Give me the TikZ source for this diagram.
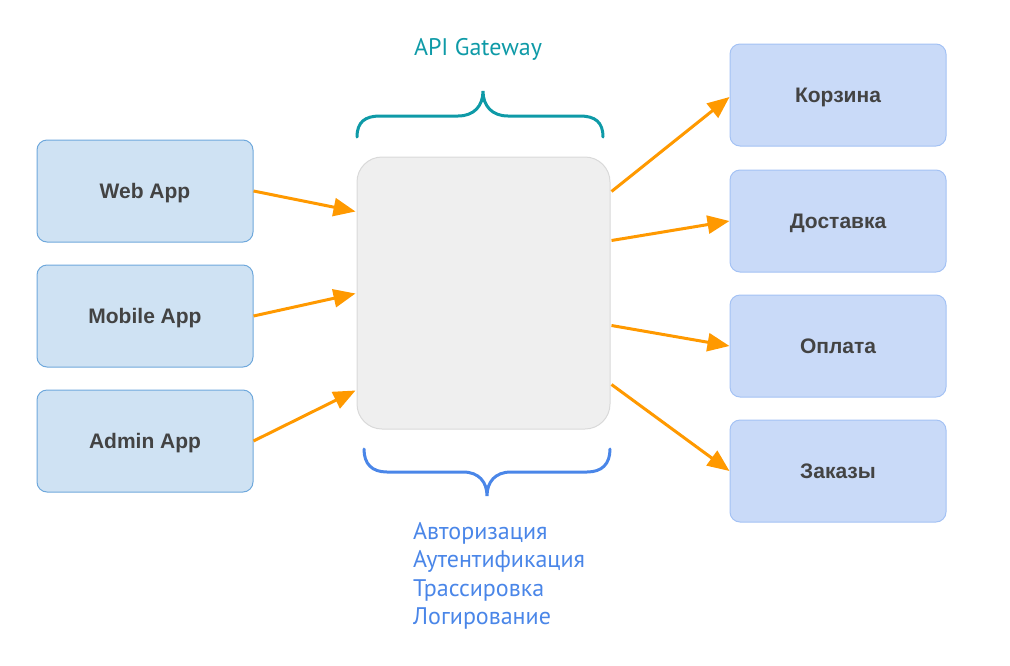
\documentclass[tikz,border=0pt]{standalone}
\usepackage{fontspec}
\setmainfont{Liberation Sans}
\newfontfamily\ptsans{PT Sans}
\usetikzlibrary{arrows.meta,calc}
\definecolor{clientfill}{HTML}{CFE2F3}
\definecolor{clientdraw}{HTML}{6FA8DC}
\definecolor{svcfill}{HTML}{C9DAF8}
\definecolor{svcdraw}{HTML}{A4C2F4}
\definecolor{gwfill}{HTML}{EFEFEF}
\definecolor{gwdraw}{HTML}{D9D9D9}
\definecolor{labeltext}{HTML}{434343}
\definecolor{flowcolor}{HTML}{FF9900}
\definecolor{tealc}{HTML}{0E9AA7}
\definecolor{bluec}{HTML}{4A86E8}
\begin{document}
\begin{tikzpicture}[x=1pt,y=-1pt,
  boxlabel/.style={font=\fontsize{21}{25}\selectfont\bfseries, text=labeltext, text height=15pt, text depth=0pt},
  clientbox/.style={boxlabel, draw=clientdraw, fill=clientfill, line width=1pt, rounded corners=10pt, minimum width=216pt, minimum height=102pt},
  svcbox/.style={boxlabel, draw=svcdraw, fill=svcfill, line width=1pt, rounded corners=10pt, minimum width=216pt, minimum height=102pt},
  gwbox/.style={draw=gwdraw, fill=gwfill, line width=1pt, rounded corners=25pt, minimum width=253pt, minimum height=272pt},
  flow/.style={draw=flowcolor, line width=3pt, -{Triangle[length=22pt,width=18pt]}},
  bracestyle/.style={line width=3pt, line cap=round},
  notetext/.style={font=\ptsans\fontsize{24}{28.5}\selectfont, inner sep=0pt}
]
\useasboundingbox (0,0) rectangle (1010,665);
% clients
\node[clientbox] (web) at (145,191) {Web App};
\node[clientbox] (mobile) at (145,316) {Mobile App};
\node[clientbox] (admin) at (145,441) {Admin App};
% gateway
\node[gwbox] (gw) at (483.5,293) {};
% services
\node[svcbox] (cart) at (838,95) {Корзина};
\node[svcbox] (delivery) at (838,221) {Доставка};
\node[svcbox] (pay) at (838,346) {Оплата};
\node[svcbox] (orders) at (838,471) {Заказы};
% connection points on gateway
\coordinate (gi1) at ($(gw.north west)+(-1,55)$);
\coordinate (gi2) at ($(gw.north west)+(-1,137)$);
\coordinate (gi3) at ($(gw.north west)+(-1,234)$);
\coordinate (go1) at ($(gw.north east)+(1,35)$);
\coordinate (go2) at ($(gw.north east)+(1,84)$);
\coordinate (go3) at ($(gw.north east)+(1,169)$);
\coordinate (go4) at ($(gw.north east)+(1,228)$);
% arrows
\draw[flow] (web.east) -- (gi1);
\draw[flow] (mobile.east) -- (gi2);
\draw[flow] (admin.east) -- (gi3);
\draw[flow] (go1) -- ($(cart.west)+(0,2)$);
\draw[flow] (go2) -- (delivery.west);
\draw[flow] (go3) -- (pay.west);
\draw[flow] (go4) -- (orders.west);
% top brace
\draw[bracestyle, draw=tealc] (357,137) .. controls (357,122) and (365,116) .. (380,116) -- (458,116)
  .. controls (474,116) and (483,106) .. (483,91)
  .. controls (483,106) and (492,116) .. (508,116) -- (580,116)
  .. controls (595,116) and (603,122) .. (603,137);
% bottom brace
\draw[bracestyle, draw=bluec] (364,449) .. controls (364,464) and (372,472) .. (387,472) -- (463,472)
  .. controls (479,472) and (487,482) .. (487,496)
  .. controls (487,482) and (495,472) .. (511,472) -- (587,472)
  .. controls (602,472) and (610,464) .. (610,449);
% texts
\node[notetext, text=tealc, anchor=base, font=\ptsans\fontsize{24}{28}\selectfont] (title) at (478,55) {API Gateway};
\node[notetext, text=bluec, anchor=base west] (n1) at (413,539) {Авторизация};
\node[notetext, text=bluec, anchor=base west] (n2) at (413,567.5) {Аутентификация};
\node[notetext, text=bluec, anchor=base west] (n3) at (413,596) {Трассировка};
\node[notetext, text=bluec, anchor=base west] (n4) at (413,624.5) {Логирование};
\end{tikzpicture}
\end{document}
